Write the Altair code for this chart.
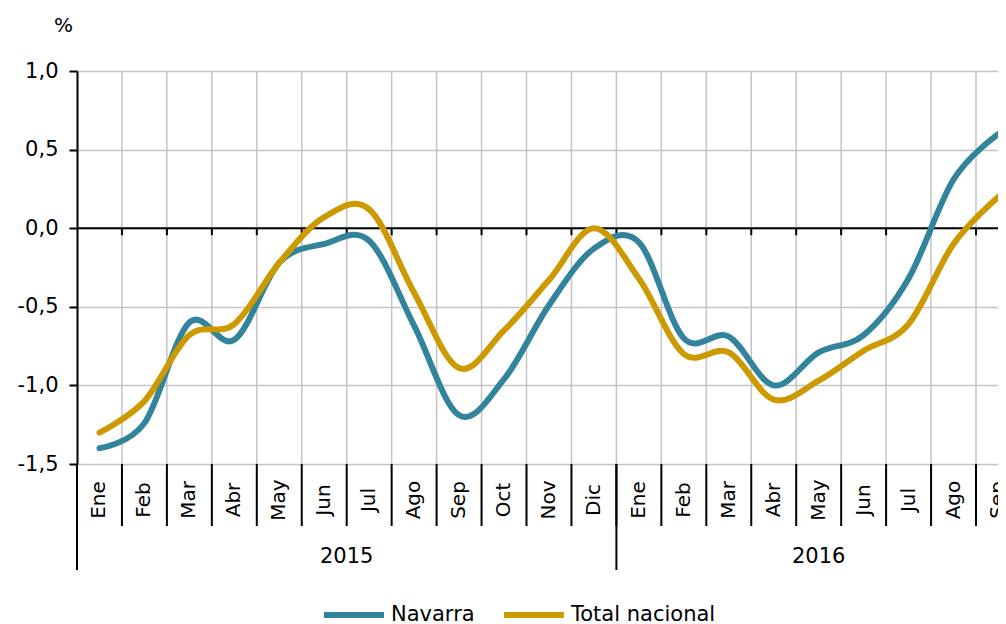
import altair as alt
import pandas as pd

# ---- data ----
meses = ["Ene", "Feb", "Mar", "Abr", "May", "Jun", "Jul", "Ago", "Sep", "Oct", "Nov", "Dic",
         "Ene", "Feb", "Mar", "Abr", "May", "Jun", "Jul", "Ago", "Sep"]
anios = ["2015"] * 12 + ["2016"] * 9
navarra = [-1.40, -1.24, -0.60, -0.71, -0.22, -0.10, -0.08, -0.62, -1.19, -0.96, -0.49, -0.13,
           -0.09, -0.70, -0.69, -1.00, -0.79, -0.68, -0.32, 0.31, 0.60]
total_nacional = [-1.30, -1.10, -0.68, -0.61, -0.22, 0.07, 0.12, -0.41, -0.89, -0.65, -0.33, 0.00,
                  -0.32, -0.80, -0.79, -1.09, -0.97, -0.78, -0.61, -0.10, 0.20]
series = ["Navarra", "Total nacional"]
colores = ["#31849B", "#CC9900"]
y_ticks = [-1.5, -1.0, -0.5, 0.0, 0.5, 1.0]

FONT = "DejaVu Sans"
STEP = 44.95            # pixels per month in the reference
W, H = 921, 393
YMIN, YMAX = -1.5, 1.0
XDOM = [-0.5, -0.5 + W / STEP]

n = len(meses)
rows = []
for i in range(n):
    rows.append({"idx": i, "mes": meses[i], "serie": series[0], "valor": navarra[i]})
    rows.append({"idx": i, "mes": meses[i], "serie": series[1], "valor": total_nacional[i]})
df = pd.DataFrame(rows)

df_mes = pd.DataFrame({"idx": list(range(n)), "mes": meses, "anio": anios})
df_bnd = pd.DataFrame({"b": [i + 0.5 for i in range(n - 1)]})
year_names = sorted(set(anios))
year_start = [anios.index(y) - 0.5 for y in year_names]
year_end = [len(anios) - 1 - anios[::-1].index(y) + 0.5 for y in year_names]
df_year = pd.DataFrame({"anio": year_names,
                        "centro": [(a + b) / 2 for a, b in zip(year_start, year_end)],
                        "inicio": year_start})

xscale = alt.Scale(domain=XDOM, nice=False, zero=False)
zero_px = H * (YMAX - 0) / (YMAX - YMIN)

grid_v = alt.Chart(df_bnd).mark_rule(color="#C4C4C4", strokeWidth=1.5).encode(
    x=alt.X("b:Q", scale=xscale, axis=None),
    y=alt.value(0), y2=alt.value(H))

zero_line = alt.Chart(pd.DataFrame({"v": [0]})).mark_rule(color="black", strokeWidth=2).encode(
    x=alt.value(0), x2=alt.value(W + 20), y=alt.value(zero_px))

zero_ticks = alt.Chart(df_bnd).mark_rule(color="black", strokeWidth=2).encode(
    x=alt.X("b:Q", scale=xscale, axis=None),
    y=alt.value(zero_px), y2=alt.value(zero_px + 7))

sep_mes = alt.Chart(df_bnd).mark_rule(color="black", strokeWidth=2).encode(
    x=alt.X("b:Q", scale=xscale, axis=None),
    y=alt.value(H), y2=alt.value(H + 62))

sep_anio = alt.Chart(df_year).mark_rule(color="black", strokeWidth=2).encode(
    x=alt.X("inicio:Q", scale=xscale, axis=None),
    y=alt.value(H), y2=alt.value(H + 106))

lines = alt.Chart(df).mark_line(interpolate="cardinal", strokeWidth=6, strokeCap="round",
                                strokeJoin="round").encode(
    x=alt.X("idx:Q", scale=xscale, axis=None),
    y=alt.Y("valor:Q", scale=alt.Scale(domain=[YMIN, YMAX], nice=False, zero=False),
            axis=alt.Axis(values=y_ticks, title="%", titleAngle=0, titleX=-14, titleY=-46,
                          titleAlign="center", titleBaseline="middle", titleFontSize=20,
                          titleFont=FONT, titleFontWeight="normal", titleColor="black",
                          labelExpr="replace(replace(format(datum.value, '.1f'), '.', ','), '\u2212', '-')",
                          labelFont=FONT, labelFontSize=21, labelColor="black", labelPadding=11,
                          tickSize=8, tickWidth=2, tickColor="black",
                          domainColor="black", domainWidth=2,
                          gridColor="#C4C4C4", gridWidth=1.5)),
    color=alt.Color("serie:N", scale=alt.Scale(domain=series, range=colores),
                    legend=alt.Legend(orient="none", legendX=244, legendY=511,
                                      direction="horizontal", title=None,
                                      symbolType="stroke", symbolSize=3600,
                                      symbolStrokeWidth=6, labelFont=FONT,
                                      labelFontSize=21, labelColor="black",
                                      labelOffset=4, columnPadding=17)),
    order="idx:Q")

month_text = alt.Chart(df_mes).mark_text(angle=270, align="center", baseline="middle",
                                         font=FONT, fontSize=20, color="black").encode(
    x=alt.X("idx:Q", scale=xscale, axis=None),
    y=alt.value(H + 36),
    text="mes:N")

year_text = alt.Chart(df_year).mark_text(align="center", baseline="middle",
                                         font=FONT, fontSize=21, color="black").encode(
    x=alt.X("centro:Q", scale=xscale, axis=None),
    y=alt.value(H + 93),
    text="anio:N")

chart = alt.layer(grid_v, zero_line, zero_ticks, sep_mes, sep_anio, lines, month_text, year_text).properties(
    width=W, height=H,
    autosize=alt.AutoSizeParams(type="none"),
    padding={"left": 69, "top": 63, "right": 0, "bottom": 160},
    background="white",
).configure_view(stroke=None)

chart.save("out.html", embed_options={"renderer": "svg", "actions": False})
